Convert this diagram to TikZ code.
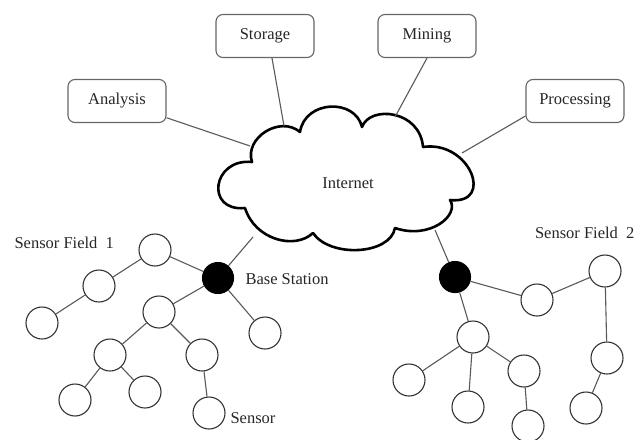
\documentclass[tikz,border=0pt]{standalone}
\usepackage{fontspec}
\setmainfont{Liberation Serif}
\begin{document}
\begin{tikzpicture}[x=1pt,y=-1pt,
  font=\fontsize{16.5}{18}\selectfont,
  txt/.style={text=black!85},
  box/.style={draw=black!60, line width=1.1pt, rounded corners=7pt, minimum width=98pt, minimum height=43pt, inner sep=0pt, text=black!85},
  link/.style={draw=black!65, line width=1.1pt},
  sensor/.style={circle, draw=black!80, line width=1.1pt, fill=white, minimum size=32pt, inner sep=0pt},
  basest/.style={circle, draw=black, fill=black, line width=1.1pt, minimum size=31pt, inner sep=0pt},
  cloudline/.style={draw=black, line width=2.6pt, fill=white, line join=round}]
\useasboundingbox (0,0) rectangle (636,439);
% cloud
\draw[cloudline] (252,162) .. controls (244,138) and (280,115) .. (300,132)
  .. controls (305,100) and (355,98) .. (362,127)
  .. controls (370,105) and (420,110) .. (423,147)
  .. controls (470,140) and (495,205) .. (450,200)
  .. controls (460,215) and (430,240) .. (395,228)
  .. controls (390,255) and (330,258) .. (313,233)
  .. controls (295,250) and (255,240) .. (245,208)
  .. controls (205,212) and (212,158) .. cycle;
\node[txt] (inet) at (348,183) {Internet};
\coordinate (cA) at (250,146);
\coordinate (cS) at (284,126);
\coordinate (cM) at (395,117);
\coordinate (cP) at (462,153);
\coordinate (cB1) at (253,237);
\coordinate (cB2) at (435,230);
% boxes
\node[box] (ana) at (117,101) {Analysis};
\node[box] (sto) at (265,36) {Storage};
\node[box] (min) at (427,36) {Mining};
\node[box] (pro) at (575,101) {Processing};
\draw[link] (ana) -- (cA);
\draw[link] ([xshift=7pt]sto.south) -- (cS);
\draw[link] (min.south) -- (cM);
\draw[link] ([yshift=-15pt]pro.west) -- (cP);
% sensor field 1
\node[basest] (bs1) at (218,278) {};
\node[sensor] (a1) at (155,250) {};
\node[sensor] (a2) at (99,286) {};
\node[sensor] (a3) at (42,323) {};
\node[sensor] (a4) at (159,312) {};
\node[sensor] (a5) at (265,333) {};
\node[sensor] (a6) at (110,355) {};
\node[sensor] (a7) at (202,355) {};
\node[sensor] (a8) at (75,400) {};
\node[sensor] (a9) at (145,392) {};
\node[sensor] (a10) at (209,413) {};
\draw[link] (bs1) -- (cB1);
\draw[link] (a1) -- (a2);
\draw[link] (a2) -- (a3);
\draw[link] (a1) -- (bs1);
\draw[link] (bs1) -- (a4);
\draw[link] (bs1) -- (a5);
\draw[link] (a4) -- (a6);
\draw[link] (a4) -- (a7);
\draw[link] (a6) -- (a8);
\draw[link] (a6) -- (a9);
\draw[link] (a7) -- (a10);
\node[txt, anchor=west] (sf1) at (11,243) {Sensor Field~~1};
\node[txt, anchor=west] (bsl) at (242,279) {Base Station};
\node[txt, anchor=west] (sl) at (227,418) {Sensor};
% sensor field 2
\node[basest] (bs2) at (455,277) {};
\node[sensor] (b1) at (537,300) {};
\node[sensor] (b2) at (605,271) {};
\node[sensor] (b3) at (473,337) {};
\node[sensor] (b4) at (409,380) {};
\node[sensor] (b5) at (468,407) {};
\node[sensor] (b6) at (524,371) {};
\node[sensor] (b7) at (528,426) {};
\node[sensor] (b8) at (607,358) {};
\node[sensor] (b9) at (586,408) {};
\draw[link] (bs2) -- (cB2);
\draw[link] (bs2) -- (b1);
\draw[link] (b1) -- (b2);
\draw[link] (b2) -- (b8);
\draw[link] (b8) -- (b9);
\draw[link] (bs2) -- (b3);
\draw[link] (b3) -- (b4);
\draw[link] (b3) -- (b5);
\draw[link] (b3) -- (b6);
\draw[link] (b6) -- (b7);
\node[txt, anchor=east] (sf2) at (638,233) {Sensor Field~~2};
\end{tikzpicture}
\end{document}
